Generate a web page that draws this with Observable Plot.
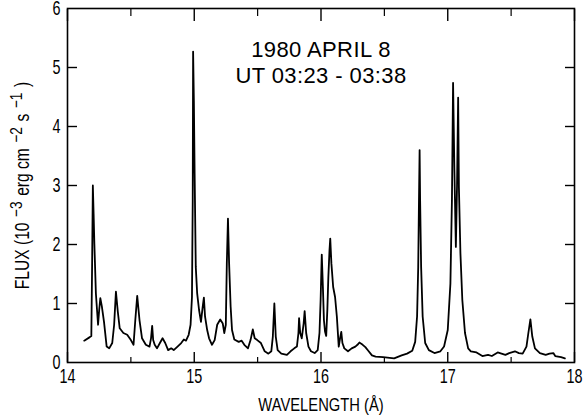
<!DOCTYPE html>
<html><head><meta charset="utf-8">
<script src="https://cdn.jsdelivr.net/npm/d3@7"></script>
<script src="https://cdn.jsdelivr.net/npm/@observablehq/plot@0.6"></script>
<style>
body{margin:0;background:#fff;}
#chart svg{display:block;}
</style></head><body><div id="chart"></div>
<script>
const wavelength = [14.132,14.176,14.188,14.194,14.200,14.206,14.212,14.224,14.241,14.250,14.259,14.271,14.288,14.309,14.329,14.353,14.368,14.382,14.397,14.412,14.441,14.471,14.500,14.521,14.535,14.550,14.568,14.588,14.618,14.647,14.659,14.668,14.676,14.688,14.706,14.729,14.750,14.771,14.794,14.818,14.838,14.868,14.897,14.918,14.935,14.956,14.971,14.982,14.988,14.991,14.997,15.003,15.012,15.023,15.038,15.053,15.067,15.076,15.085,15.102,15.117,15.140,15.161,15.181,15.205,15.225,15.237,15.249,15.257,15.266,15.275,15.287,15.298,15.316,15.351,15.374,15.395,15.424,15.444,15.462,15.477,15.497,15.526,15.556,15.585,15.608,15.620,15.632,15.643,15.658,15.687,15.731,15.760,15.789,15.810,15.822,15.827,15.836,15.848,15.863,15.871,15.883,15.901,15.921,15.950,15.974,15.988,15.997,16.006,16.015,16.023,16.032,16.041,16.050,16.058,16.067,16.073,16.082,16.096,16.111,16.125,16.140,16.152,16.160,16.169,16.184,16.213,16.242,16.271,16.292,16.303,16.315,16.329,16.350,16.373,16.402,16.431,16.490,16.577,16.636,16.679,16.720,16.743,16.758,16.767,16.773,16.778,16.782,16.790,16.802,16.822,16.851,16.895,16.942,16.971,17.000,17.021,17.033,17.042,17.052,17.064,17.073,17.082,17.088,17.100,17.115,17.136,17.161,17.182,17.227,17.273,17.318,17.348,17.394,17.424,17.455,17.485,17.530,17.561,17.591,17.621,17.636,17.652,17.667,17.688,17.727,17.773,17.803,17.833,17.848,17.894,17.924];
const flux = [0.37,0.43,0.45,1.62,3.00,2.52,2.01,1.17,0.64,0.89,1.09,0.95,0.69,0.27,0.24,0.33,0.64,1.20,0.86,0.58,0.50,0.47,0.38,0.30,0.72,1.13,0.72,0.41,0.30,0.27,0.41,0.62,0.38,0.30,0.24,0.33,0.41,0.33,0.21,0.24,0.21,0.27,0.33,0.39,0.37,0.47,0.64,1.11,2.75,5.27,4.43,3.20,1.62,1.17,0.89,0.69,0.95,1.10,0.78,0.55,0.41,0.30,0.38,0.64,0.73,0.66,0.50,0.64,1.68,2.44,1.68,0.95,0.55,0.39,0.35,0.37,0.30,0.24,0.38,0.56,0.41,0.38,0.33,0.19,0.15,0.19,0.44,1.00,0.44,0.21,0.15,0.13,0.19,0.24,0.27,0.50,0.75,0.50,0.41,0.66,0.87,0.50,0.27,0.19,0.16,0.21,0.50,1.06,1.83,1.28,0.72,0.52,0.45,0.89,1.45,1.90,2.10,1.68,1.28,1.11,0.78,0.27,0.43,0.52,0.33,0.24,0.19,0.24,0.27,0.31,0.34,0.32,0.30,0.26,0.20,0.12,0.10,0.09,0.07,0.12,0.15,0.20,0.35,0.78,1.62,2.75,3.60,2.75,1.62,0.78,0.33,0.21,0.16,0.19,0.27,0.55,1.34,2.75,4.74,3.31,1.96,2.97,4.49,2.97,1.85,1.06,0.50,0.24,0.19,0.17,0.11,0.13,0.11,0.17,0.15,0.13,0.16,0.19,0.16,0.15,0.27,0.50,0.73,0.44,0.24,0.16,0.13,0.15,0.16,0.11,0.09,0.07];
const xMajorTicks = [14, 15, 16, 17, 18];
const xMinorTicks = [14.5, 15.5, 16.5, 17.5];
const yTicks = [0, 1, 2, 3, 4, 5, 6];
const yInnerTicks = [1, 2, 3, 4, 5];
const titleText = "1980 APRIL 8\nUT 03:23 - 03:38";
const xLabel = "WAVELENGTH (Å)";
// y label pieces: [text, isSuperscript]
const yLabelParts = [["FLUX (10", false], ["−3", true], ["erg cm", false], ["−2", true], ["s", false], ["−1", true], [")", false]];
const yLabel = yLabelParts.map(p => p[0]).join(" ");

const spectrum = wavelength.map((w, i) => ({w, f: flux[i]}));

const W = 584, H = 418, mL = 67, mR = 10, mT = 8, mB = 56;

const chart = Plot.plot({
  width: W, height: H,
  marginLeft: mL, marginRight: mR, marginTop: mT, marginBottom: mB,
  style: {fontFamily: "Liberation Sans", color: "#000", background: "#fff"},
  x: {domain: [14, 18]},
  y: {domain: [0, 6]},
  marks: [
    Plot.frame({stroke: "#000", strokeWidth: 1.6}),
    Plot.axisX(xMajorTicks, {anchor: "top", tickSize: -12, fill: "none", stroke: "#000", strokeWidth: 1.4}),
    Plot.axisX(xMajorTicks, {anchor: "bottom", tickSize: -10, fill: "none", stroke: "#000", strokeWidth: 1.4}),
    Plot.axisX(xMinorTicks, {anchor: "top", tickSize: -7, fill: "none", stroke: "#000", strokeWidth: 1.2}),
    Plot.axisX(xMinorTicks, {anchor: "bottom", tickSize: -5, fill: "none", stroke: "#000", strokeWidth: 1.2}),
    Plot.axisY(yInnerTicks, {anchor: "left", tickSize: -10, fill: "none", stroke: "#000", strokeWidth: 1.4}),
    Plot.axisY(yInnerTicks, {anchor: "right", tickSize: -10, fill: "none", stroke: "#000", strokeWidth: 1.4}),
    Plot.axisX(xMajorTicks, {anchor: "bottom", tickSize: 0, tickPadding: 6, fontSize: 20, tickFormat: d => String(d), label: xLabel, labelAnchor: "center", labelArrow: "none", labelOffset: 48}),
    Plot.axisY(yTicks, {anchor: "left", tickSize: 0, tickPadding: 7, fontSize: 20, tickFormat: d => String(d), label: yLabel, labelAnchor: "center", labelArrow: "none", labelOffset: 52}),
    Plot.line(spectrum, {x: "w", y: "f", stroke: "#000", strokeWidth: 1.8}),
    Plot.text([titleText], {frameAnchor: "top", dy: 31, lineAnchor: "top", fontSize: 22, lineHeight: 1.15, fill: "#000"})
  ]
});
document.getElementById("chart").appendChild(chart);

const svg = d3.select(chart);
svg.selectAll('g[aria-label="x-axis label"]').attr("font-size", 18);
svg.selectAll('g[aria-label="y-axis label"]').attr("font-size", 19.5);
svg.selectAll('g[aria-label="text"] text').attr("letter-spacing", 0.4);

// y label: rebuild with raised exponents
svg.selectAll('g[aria-label="y-axis label"] text').each(function () {
  const el = d3.select(this);
  el.text(null);
  let raised = false;
  yLabelParts.forEach(([t, sup], i) => {
    const ts = el.append("tspan").text(t);
    if (i > 0) ts.attr("dx", 7);
    if (sup && !raised) { ts.attr("dy", -7).attr("font-size", 17); raised = true; }
    else if (sup) { ts.attr("font-size", 17); }
    else if (raised) { ts.attr("dy", 7); raised = false; }
  });
});

// condense axis texts horizontally to imitate the narrow typeface of the original
function condense(selector, s) {
  svg.selectAll(selector).each(function () {
    const el = d3.select(this);
    const t = el.attr("transform");
    if (t) {
      el.attr("transform", t + ` scale(${s},1)`);
    } else {
      const x = +(el.attr("x") || 0), y = +(el.attr("y") || 0);
      el.attr("x", null).attr("y", null).attr("transform", `translate(${x},${y}) scale(${s},1)`);
    }
  });
}
condense('g[aria-label="x-axis tick label"] text', 0.72);
condense('g[aria-label="y-axis tick label"] text', 0.72);
condense('g[aria-label="x-axis label"] text', 0.82);
condense('g[aria-label="y-axis label"] text', 0.8);
</script></body></html>
